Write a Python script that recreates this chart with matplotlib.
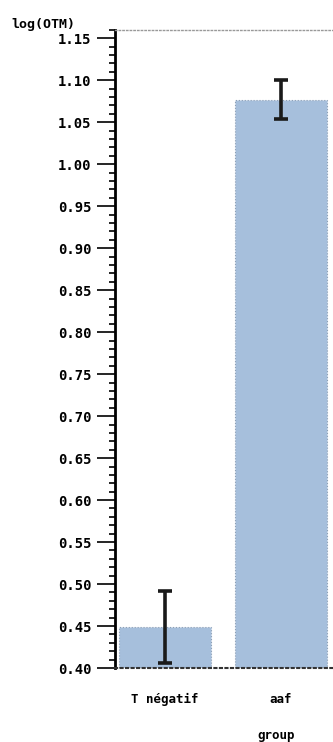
import matplotlib
matplotlib.use("Agg")
import matplotlib.pyplot as plt
from matplotlib.ticker import MultipleLocator

categories = ["T négatif", "aaf"]
values = [0.449, 1.077]
errors = [0.043, 0.023]
yticks = [0.40, 0.45, 0.50, 0.55, 0.60, 0.65, 0.70, 0.75, 0.80, 0.85, 0.90, 0.95, 1.00, 1.05, 1.10, 1.15]

fig = plt.figure(figsize=(3.33, 7.42), dpi=100)
ax = fig.add_axes([0.345, 0.0997, 0.655, 0.86])

x = [0, 1]
ax.bar(x, values, width=0.79, color="#a6bfdc", edgecolor="#8c9fb5", linewidth=0.8,
       linestyle=":", zorder=2)
ax.errorbar(x, values, yerr=errors, fmt="none", ecolor="#1a1a1a", elinewidth=2.6,
            capsize=5, capthick=2.6, zorder=3)

ax.set_ylim(0.40, 1.16)
ax.set_xlim(-0.43, 1.45)
ax.set_yticks(yticks)
ax.set_yticklabels([f"{v:.2f}" for v in yticks], family="DejaVu Sans Mono",
                   fontweight="bold", fontsize=10)
ax.yaxis.set_minor_locator(MultipleLocator(0.01))
ax.tick_params(axis="y", which="major", length=13, width=1.2, pad=4, direction="out")
ax.tick_params(axis="y", which="minor", length=4.5, width=1.2, direction="out")
ax.set_xticks(x)
ax.set_xticklabels(categories, family="DejaVu Sans Mono", fontweight="bold", fontsize=9)
ax.tick_params(axis="x", length=0, pad=18)

ax.spines["left"].set_linewidth(2)
ax.spines["right"].set_visible(False)
ax.spines["top"].set_linestyle(":")
ax.spines["top"].set_color("#999999")
ax.spines["top"].set_linewidth(1)
ax.spines["bottom"].set_linestyle(":")
ax.spines["bottom"].set_color("#333333")
ax.spines["bottom"].set_linewidth(1.5)

ax.set_xlabel("group", family="DejaVu Sans Mono", fontweight="bold", fontsize=9)
ax.xaxis.set_label_coords(0.74, -0.095)

fig.text(0.035, 0.958, "log(OTM)", family="DejaVu Sans Mono", fontweight="bold",
         fontsize=9.5, va="bottom", ha="left")

fig.savefig("out.png", dpi=100)
